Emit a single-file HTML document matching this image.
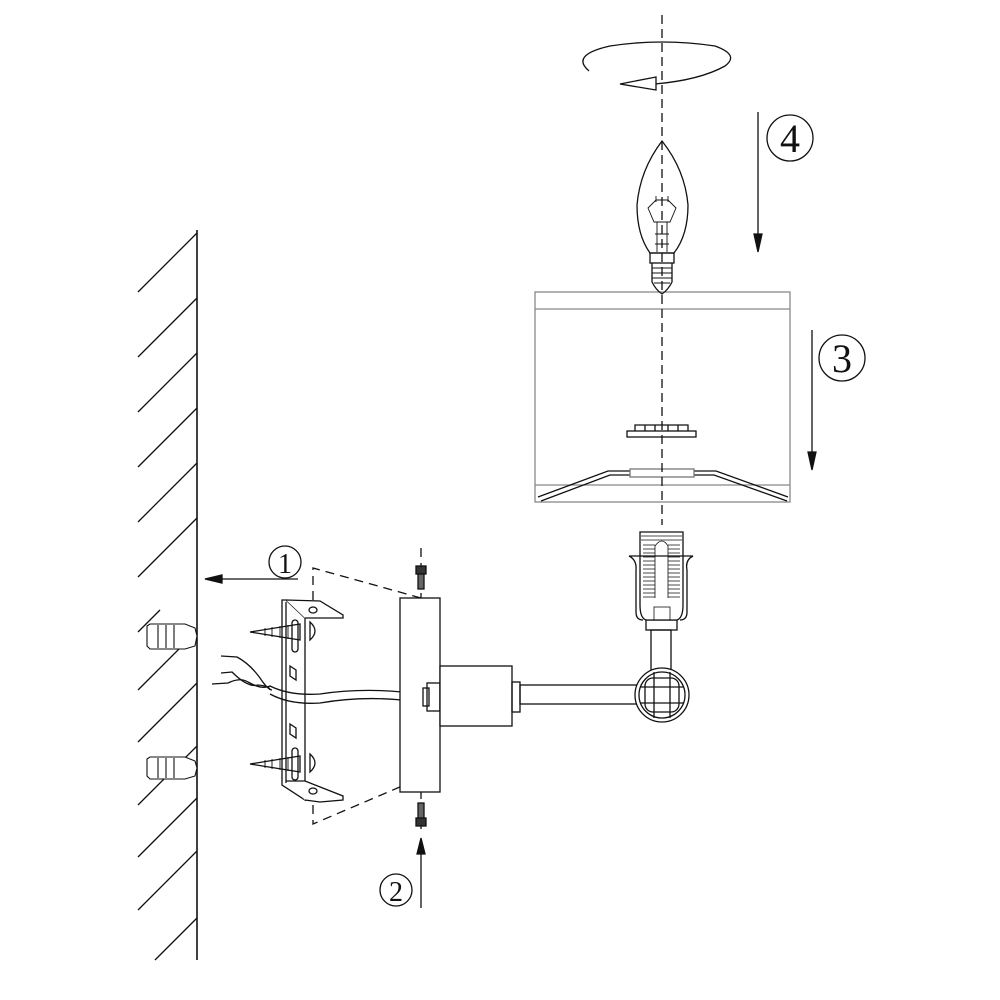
<!DOCTYPE html>
<html><head><meta charset="utf-8"><style>html,body{margin:0;padding:0;background:#fff}svg{display:block}</style></head>
<body>
<svg width="1000" height="1000" viewBox="0 0 1000 1000" xmlns="http://www.w3.org/2000/svg" fill="none" stroke="#111" stroke-width="1.3" font-family="Liberation Serif, serif">
<!-- wall -->
<line x1="197" y1="230" x2="197" y2="960" stroke-width="1.6"/>
<g>
<line x1="138" y1="292" x2="197" y2="233"/>
<line x1="138" y1="357" x2="197" y2="298"/>
<line x1="138" y1="412" x2="197" y2="353"/>
<line x1="138" y1="467" x2="197" y2="408"/>
<line x1="138" y1="522" x2="197" y2="463"/>
<line x1="138" y1="577" x2="197" y2="518"/>
<line x1="138" y1="690" x2="197" y2="631"/>
<line x1="138" y1="742" x2="197" y2="683"/>
<line x1="138" y1="805" x2="197" y2="746"/>
<line x1="138" y1="857" x2="197" y2="798"/>
<line x1="138" y1="910" x2="197" y2="851"/>
<line x1="155" y1="960" x2="197" y2="918"/>
<line x1="138" y1="632" x2="160" y2="610"/>
</g>
<!-- anchors -->
<g stroke-width="1.1">
<path d="M147 626 L150 624 L185 624 L195 628 L197 636 L195 646 L185 649 L150 649 L147 646 Z" fill="#fff"/>
<line x1="158" y1="625" x2="158" y2="648"/><line x1="166" y1="625" x2="166" y2="648"/><line x1="174" y1="625" x2="174" y2="648"/>
<path d="M147 759 L150 757 L185 757 L195 761 L197 768 L195 776 L185 779 L150 779 L147 776 Z" fill="#fff"/>
<line x1="158" y1="758" x2="158" y2="778"/><line x1="166" y1="758" x2="166" y2="778"/><line x1="174" y1="758" x2="174" y2="778"/>
</g>
<!-- label 1 -->
<circle cx="285" cy="562" r="16"/>
<text x="285" y="573" font-size="28" text-anchor="middle" fill="#111" stroke="none">1</text>
<line x1="298" y1="579" x2="215" y2="579"/>
<path d="M205 579 L222 575 L222 583 Z" fill="#111"/>
<!-- dashed parallelogram -->
<g stroke-dasharray="9 6">
<path d="M313 600 L313 568 L421 598"/>
<path d="M313 790 L313 824 L421 778"/>
<line x1="421" y1="548" x2="421" y2="600"/>
<line x1="421" y1="790" x2="421" y2="830"/>
</g>
<!-- bracket -->
<path d="M282 600 L282 785 L305 800 L305 618 L286 600 Z" fill="#fff"/>
<line x1="286" y1="602" x2="286" y2="783"/>
<path d="M286 600 L320 601 L343 615 L343 618 L305 618" fill="#fff"/>
<ellipse cx="313" cy="610" rx="4" ry="3"/>
<path d="M286 781 L305 781 L343 796 L343 800 L320 802 L305 800" fill="#fff"/>
<ellipse cx="313" cy="791" rx="4" ry="3"/>
<rect x="292" y="620" width="6" height="32" rx="3"/>
<rect x="292" y="748" width="6" height="32" rx="3"/>
<path d="M290 666 L296 670 L296 680 L290 676 Z"/>
<path d="M290 724 L296 728 L296 738 L290 734 Z"/>
<!-- screws -->
<path d="M250 632 L300 624 L300 640 Z"/>
<path d="M310 622 Q320 631 310 640 Z"/>
<path d="M250 764 L300 756 L300 772 Z"/>
<path d="M310 754 Q320 763 310 772 Z"/>
<g stroke-width="0.9"><line x1="265" y1="628" x2="265" y2="636"/><line x1="272" y1="627" x2="272" y2="637"/><line x1="280" y1="626" x2="280" y2="638"/><line x1="288" y1="625" x2="288" y2="639"/>
<line x1="265" y1="760" x2="265" y2="768"/><line x1="272" y1="759" x2="272" y2="769"/><line x1="280" y1="758" x2="280" y2="770"/><line x1="288" y1="757" x2="288" y2="771"/></g>
<!-- wires -->
<path d="M221 673 L232 672 Q248 688 258 685 Q270 686 270 690"/>
<path d="M221 656 L237 657 Q250 664 260 678 Q268 690 272 690"/>
<path d="M212 684 L228 683 Q240 677 248 682 Q262 690 270 686 Q290 696 320 694 Q360 688 402 692"/>
<path d="M270 694 Q290 705 320 703 Q360 696 402 700"/>
<!-- backplate -->
<rect x="400" y="598" width="40" height="194" fill="#fff"/>
<!-- screws on top/bottom -->
<rect x="416" y="566" width="10" height="8" fill="#333"/>
<rect x="418" y="574" width="6" height="15" fill="#666"/>
<rect x="416" y="818" width="10" height="8" fill="#333"/>
<rect x="418" y="803" width="6" height="15" fill="#666"/>
<!-- label 2 -->
<circle cx="396" cy="890" r="16"/>
<text x="396" y="901" font-size="28" text-anchor="middle" fill="#111" stroke="none">2</text>
<line x1="421" y1="908" x2="421" y2="848"/>
<path d="M421 838 L417 854 L425 854 Z" fill="#111"/>
<!-- nut & cylinder -->
<rect x="427" y="683" width="13" height="28"/>
<rect x="423" y="688" width="6" height="18"/>
<rect x="440" y="666" width="72" height="60" fill="#fff"/>
<rect x="512" y="682" width="8" height="30"/>
<rect x="520" y="685" width="120" height="19"/>
<!-- stem & knuckle -->
<rect x="651" y="630" width="20" height="40"/>
<circle cx="662" cy="695" r="27" fill="#fff"/>
<circle cx="662" cy="695" r="23"/>
<rect x="645" y="678" width="34" height="34" rx="8"/>
<line x1="654" y1="672" x2="654" y2="718"/><line x1="670" y1="672" x2="670" y2="718"/>
<line x1="640" y1="687" x2="684" y2="687"/><line x1="640" y1="703" x2="684" y2="703"/>
<!-- socket -->
<rect x="646" y="620" width="31" height="10"/>
<path d="M640 532 L683 532 L683 605 Q683 618 677 620 L646 620 Q640 618 640 605 Z" fill="#fff"/>
<path d="M629 556 L693 556 Q685 560 687 570 L687 612 Q687 620 680 620 M629 556 Q637 560 636 570 L636 612 Q636 620 643 620"/>
<g stroke-width="0.8">
<line x1="641" y1="536" x2="682" y2="536"/><line x1="641" y1="540" x2="682" y2="540"/>
<path d="M643 545 h12 M643 549 h12 M643 553 h12 M643 557 h12 M643 561 h12 M643 565 h12 M643 569 h12 M643 573 h12 M643 577 h12 M643 581 h12 M643 585 h12 M643 589 h12 M643 593 h12 M643 597 h12"/>
<path d="M668 545 h12 M668 549 h12 M668 553 h12 M668 557 h12 M668 561 h12 M668 565 h12 M668 569 h12 M668 573 h12 M668 577 h12 M668 581 h12 M668 585 h12 M668 589 h12 M668 593 h12 M668 597 h12"/>
<path d="M655 598 L655 546 Q662 536 668 546 L668 598"/>
<rect x="654" y="607" width="16" height="13"/>
</g>
<!-- shade -->
<g stroke="#888">
<rect x="535" y="292" width="255" height="210"/>
<line x1="535" y1="309" x2="790" y2="309"/>
<line x1="535" y1="485" x2="790" y2="485"/>
</g>
<path d="M538 497 L608 471 L630 471 M541 501 L610 475 L630 475 M694 471 L716 471 L788 497 M694 475 L714 475 L787 501"/>
<rect x="630" y="469" width="64" height="8" stroke="#777"/>
<rect x="627" y="431" width="69" height="6"/>
<path d="M635 431 L635 425 L688 425 L688 431 M645 425 L645 431 M655 425 L655 431 M668 425 L668 431 M678 425 L678 431"/>
<!-- bulb -->
<path d="M662 141 Q640 170 637 205 Q637 235 650 253 L674 253 Q688 235 688 205 Q685 170 662 141 Z"/>
<rect x="650" y="253" width="24" height="10"/>
<path d="M652 263 L652 282 Q656 290 662 294 Q668 290 672 282 L672 263"/>
<path d="M652 268 h20 M652 273 h20 M652 278 h20 M654 283 h16" stroke-width="0.9"/>
<path d="M648 208 L654 222 L670 222 L676 208 L668 200 L656 200 Z M657 222 L657 252 M667 222 L667 252 M655 234 L669 234 M655 244 L669 244 M656 196 L656 202 M668 196 L668 202" stroke-width="0.9"/>
<!-- axis -->
<line x1="662" y1="15" x2="662" y2="525" stroke-dasharray="9 5"/>
<!-- rotation -->
<path d="M589 71 Q570 55 610 46 Q662 38 715 46 Q740 55 725 66 Q700 80 655 84"/>
<path d="M620 84 L656 77 L656 90 Z" fill="#fff"/>
<!-- arrow 4 -->
<line x1="758" y1="112" x2="758" y2="235"/>
<path d="M758 252 L754 234 L762 234 Z" fill="#111"/>
<circle cx="790" cy="138" r="23"/>
<text x="790" y="152" font-size="40" text-anchor="middle" fill="#111" stroke="none">4</text>
<!-- arrow 3 -->
<line x1="812" y1="330" x2="812" y2="452"/>
<path d="M812 470 L808 452 L816 452 Z" fill="#111"/>
<circle cx="842" cy="358" r="23"/>
<text x="842" y="372" font-size="40" text-anchor="middle" fill="#111" stroke="none">3</text>
</svg>
</body></html>
